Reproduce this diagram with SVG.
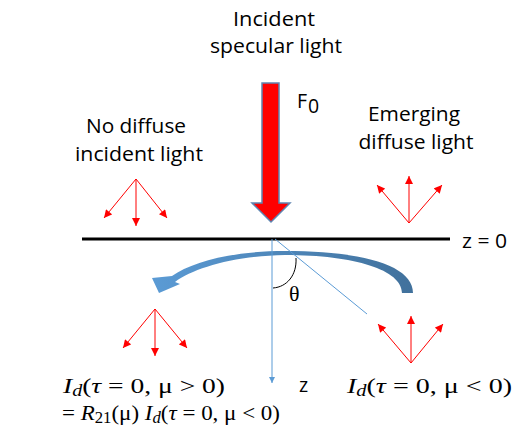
<svg xmlns="http://www.w3.org/2000/svg" width="521" height="431" viewBox="0 0 521 431">
<style>
.lbl{font-family:"Open Sans","Liberation Sans",sans-serif;font-size:19.5px;fill:#000}
.math{font-family:"Liberation Serif","DejaVu Serif",serif;font-size:22px;fill:#000}
.it{font-style:italic}
.red{stroke:#ff0000;stroke-width:1;fill:none}
.blue{stroke:#5b9bd5;stroke-width:1;fill:none}
</style>
<defs>
<marker id="ra" viewBox="0 0 10 10" refX="10" refY="5" markerWidth="9" markerHeight="8" markerUnits="userSpaceOnUse" orient="auto"><path d="M0,0 L10,5 L0,10 z" fill="#ff0000"/></marker>
<marker id="ba" viewBox="0 0 10 10" refX="10" refY="5" markerWidth="8" markerHeight="6" markerUnits="userSpaceOnUse" orient="auto"><path d="M0,0 L10,5 L0,10 z" fill="#5b9bd5"/></marker>
<linearGradient id="bg" x1="0" y1="0" x2="1" y2="0"><stop offset="0" stop-color="#5b9bd5"/><stop offset="1" stop-color="#41719c"/></linearGradient>
</defs>

<g id="title">
<text class="lbl" x="274" y="26" text-anchor="middle" textLength="82" lengthAdjust="spacingAndGlyphs">Incident</text>
<text class="lbl" x="276" y="53" text-anchor="middle" textLength="132" lengthAdjust="spacingAndGlyphs">specular light</text>
</g>

<g id="incident-beam">
<polygon points="262,83 279,83 279,203 290,203 271,222 252,203 262,203" fill="#ff0000" stroke="#5f84b0" stroke-width="1.5"/>
<text class="lbl" x="297" y="108" font-size="20">F</text>
<text class="lbl" x="308" y="113" font-size="14">0</text>
</g>

<g id="no-diffuse">
<text class="lbl" x="136" y="133" text-anchor="middle" textLength="100" lengthAdjust="spacingAndGlyphs">No diffuse</text>
<text class="lbl" x="139" y="161" text-anchor="middle" textLength="128" lengthAdjust="spacingAndGlyphs">incident light</text>
</g>

<g id="emerging">
<text class="lbl" x="414" y="121" text-anchor="middle" textLength="92" lengthAdjust="spacingAndGlyphs">Emerging</text>
<text class="lbl" x="416" y="149" text-anchor="middle" textLength="115" lengthAdjust="spacingAndGlyphs">diffuse light</text>
</g>

<g id="surface">
<line x1="82" y1="239" x2="450" y2="239" stroke="#000" stroke-width="3"/>
<text class="lbl" x="462" y="248" textLength="45" lengthAdjust="spacingAndGlyphs">z = 0</text>
</g>

<g id="z-axis">
<text class="lbl" x="299" y="392">z</text>
</g>

<g id="angle">
<path d="M273,288 C287,287 297,275 296,258" fill="none" stroke="#000" stroke-width="1"/>
<text class="math" x="289" y="301" font-size="22">θ</text>
</g>

<g id="reflection-arrow">
<path d="M413,293 C413,266 365,251 285,251 C232,251 192,262 172,276 L152,278 L159,293 L180,284 L175,282 C194,268 234,256 285,255 C355,255 402,270 402,293 Z" fill="url(#bg)"/>
</g>

<g id="formula-left">
<text class="math" x="63" y="393" textLength="162" lengthAdjust="spacingAndGlyphs"><tspan class="it">I</tspan><tspan class="it" font-size="16" dy="3">d</tspan><tspan dy="-3">(</tspan><tspan class="it">τ</tspan> = 0, μ &gt; 0)</text>
<text class="math" x="62" y="420" textLength="218" lengthAdjust="spacingAndGlyphs">= <tspan class="it">R</tspan><tspan font-size="16" dy="3">21</tspan><tspan dy="-3">(μ) </tspan><tspan class="it">I</tspan><tspan class="it" font-size="16" dy="3">d</tspan><tspan dy="-3">(</tspan><tspan class="it">τ</tspan> = 0, μ &lt; 0)</text>
</g>

<g id="formula-right">
<text class="math" x="347" y="393" textLength="165" lengthAdjust="spacingAndGlyphs"><tspan class="it">I</tspan><tspan class="it" font-size="16" dy="3">d</tspan><tspan dy="-3">(</tspan><tspan class="it">τ</tspan> = 0, μ &lt; 0)</text>
</g>

<g id="connectors">
<line class="blue" x1="272" y1="239" x2="272" y2="383" marker-end="url(#ba)" stroke="#8db4e2"/>
<line class="blue" x1="275" y1="239" x2="367" y2="314"/>
<line class="red" x1="136" y1="179" x2="104" y2="218" marker-end="url(#ra)"/>
<line class="red" x1="136" y1="179" x2="136" y2="226" marker-end="url(#ra)"/>
<line class="red" x1="136" y1="179" x2="167" y2="218" marker-end="url(#ra)"/>
<line class="red" x1="409" y1="223" x2="377" y2="185" marker-end="url(#ra)"/>
<line class="red" x1="409" y1="223" x2="409" y2="176" marker-end="url(#ra)"/>
<line class="red" x1="409" y1="223" x2="442" y2="185" marker-end="url(#ra)"/>
<line class="red" x1="155" y1="309" x2="123" y2="348" marker-end="url(#ra)"/>
<line class="red" x1="155" y1="309" x2="155" y2="356" marker-end="url(#ra)"/>
<line class="red" x1="155" y1="309" x2="187" y2="348" marker-end="url(#ra)"/>
<line class="red" x1="411" y1="363" x2="378" y2="324" marker-end="url(#ra)"/>
<line class="red" x1="411" y1="363" x2="411" y2="316" marker-end="url(#ra)"/>
<line class="red" x1="411" y1="363" x2="443" y2="324" marker-end="url(#ra)"/>
</g>
</svg>
